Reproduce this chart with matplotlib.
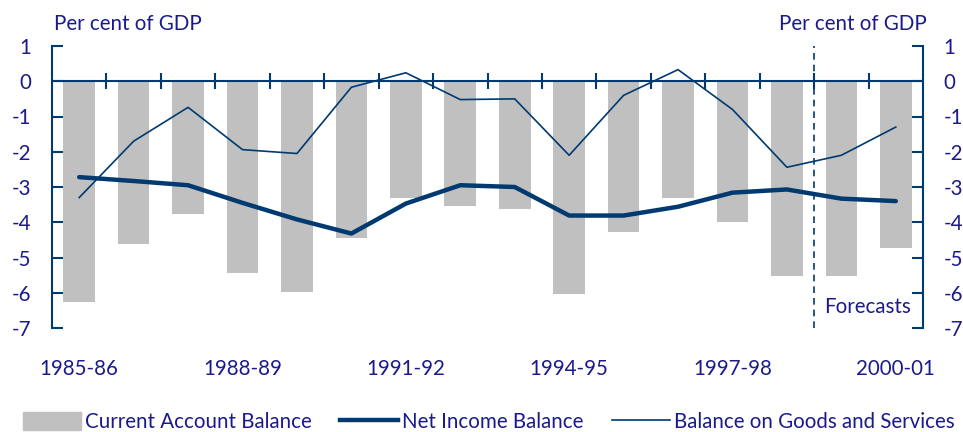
import numpy as np
import matplotlib.pyplot as plt
from matplotlib.patches import Patch
from matplotlib.lines import Line2D

plt.rcParams['font.family'] = ['Lato', 'DejaVu Sans']
plt.rcParams['axes.unicode_minus'] = False

# Financial years
years = ['1985-86', '1986-87', '1987-88', '1988-89', '1989-90', '1990-91',
         '1991-92', '1992-93', '1993-94', '1994-95', '1995-96', '1996-97',
         '1997-98', '1998-99', '1999-00', '2000-01']

# Per cent of GDP
current_account = [-6.26, -4.63, -3.78, -5.45, -5.98, -4.45, -3.32, -3.55,
                   -3.61, -6.03, -4.28, -3.32, -3.99, -5.52, -5.52, -4.73]
net_income = [-2.72, -2.83, -2.95, -3.45, -3.92, -4.32, -3.47, -2.95,
              -3.00, -3.81, -3.81, -3.56, -3.16, -3.07, -3.33, -3.40]
goods_services = [-3.30, -1.70, -0.74, -1.94, -2.05, -0.17, 0.24, -0.52,
                  -0.50, -2.10, -0.40, 0.33, -0.80, -2.44, -2.10, -1.30]

first_forecast = '1999-00'
label_every = 3

navy = '#003a70'
text_col = '#1a1a8c'
grey = '#c0c0c0'
fs = 14.8

x = np.arange(len(years))

fig = plt.figure(figsize=(9.63, 4.32), dpi=100)
ax = fig.add_axes([52 / 963, 1 - 328 / 432, 871 / 963, 282 / 432])

ax.bar(x, current_account, width=0.58, color=grey, zorder=1)
ax.plot(x, net_income, color=navy, lw=3.2, zorder=3, solid_capstyle='round')
ax.plot(x, goods_services, color=navy, lw=1.2, zorder=3)

# zero line with year boundary ticks
ax.axhline(0, color=navy, lw=1.5, zorder=2)
ax.vlines(x[:-1] + 0.5, -0.22, 0.22, color=navy, lw=1.5, zorder=2)

# forecast divider
fx = years.index(first_forecast) - 0.5
ax.vlines(fx, -7, 1, color=navy, lw=1.2, linestyles=(0, (4, 3)), zorder=4)
ax.annotate('Forecasts', xy=(fx, -6.4), xytext=(7, 0), textcoords='offset points',
            ha='left', va='center', fontsize=fs, color=text_col)

ax.set_xlim(-0.5, len(years) - 0.5)
ax.set_ylim(-7, 1)
ax.set_yticks(np.arange(-7, 2))

ax.set_xticks(x[::label_every])
ax.set_xticklabels(years[::label_every])
ax.tick_params(axis='x', length=0, pad=22, labelsize=fs, labelcolor=text_col)
ax.tick_params(axis='y', direction='in', length=8, width=1.5, color=navy,
               pad=15, labelsize=fs, labelcolor=text_col)

for s in ['top', 'bottom']:
    ax.spines[s].set_visible(False)
ax.spines['left'].set_color(navy)
ax.spines['left'].set_linewidth(1.5)
ax.spines['right'].set_visible(False)

ax2 = ax.twinx()
ax2.set_ylim(-7, 1)
ax2.set_yticks(np.arange(-7, 2))
ax2.tick_params(axis='y', direction='in', length=8, width=1.5, color=navy,
                pad=15, labelsize=fs, labelcolor=text_col)
for s in ['top', 'bottom', 'left']:
    ax2.spines[s].set_visible(False)
ax2.spines['right'].set_color(navy)
ax2.spines['right'].set_linewidth(1.5)

fig.text(54 / 963, 1 - 24 / 432, 'Per cent of GDP', ha='left', va='center',
         fontsize=fs, color=text_col)
fig.text(927 / 963, 1 - 24 / 432, 'Per cent of GDP', ha='right', va='center',
         fontsize=fs, color=text_col)

handles = [Patch(color=grey),
           Line2D([], [], color=navy, lw=3.2),
           Line2D([], [], color=navy, lw=1.2)]
labels = ['Current Account Balance', 'Net Income Balance',
          'Balance on Goods and Services']
leg = fig.legend(handles, labels, loc='center left',
                 bbox_to_anchor=(23 / 963, 1 - 422 / 432), ncol=3,
                 frameon=False, fontsize=fs, handlelength=2.8,
                 handleheight=0.95, handletextpad=0.2, columnspacing=1.4,
                 borderpad=0, borderaxespad=0)
for t in leg.get_texts():
    t.set_color(text_col)

fig.savefig('out.png', dpi=100)
